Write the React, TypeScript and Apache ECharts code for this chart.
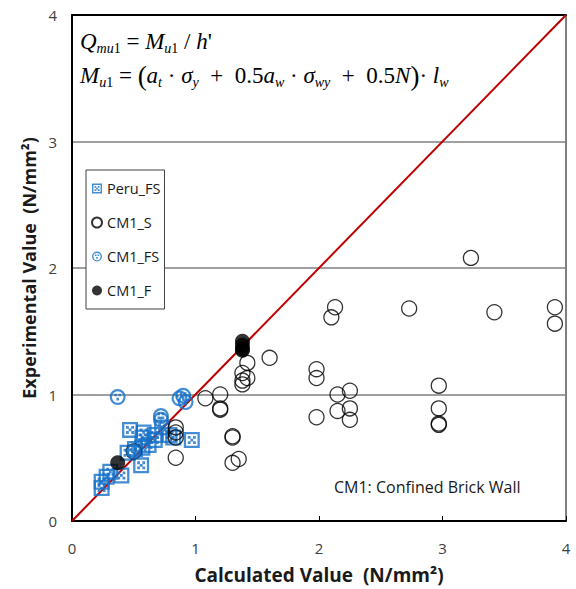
import React, { useEffect, useRef } from "react";
import * as echarts from "echarts";

// ---- data ----
const peruX = [0.47, 0.58, 0.57, 0.67, 0.67, 0.73, 0.79, 0.82, 0.97, 0.45, 0.57, 0.51, 0.56, 0.31, 0.4, 0.28, 0.24, 0.24, 0.62];
const peruY = [0.72, 0.7, 0.66, 0.68, 0.64, 0.74, 0.68, 0.66, 0.64, 0.54, 0.58, 0.57, 0.44, 0.39, 0.36, 0.35, 0.31, 0.26, 0.6];

const cm1sX = [3.23, 2.73, 3.42, 3.91, 3.91, 2.13, 2.1, 1.6, 1.42, 1.38, 1.42, 1.38, 1.38, 1.98, 1.98, 2.15, 2.25, 2.15, 2.25, 2.25, 1.98, 2.97, 2.97, 2.97, 2.97, 1.08, 1.2, 1.2, 1.2, 1.3, 1.3, 1.3, 1.35, 0.84, 0.84, 0.84, 0.84, 0.5];
const cm1sY = [2.08, 1.68, 1.65, 1.69, 1.56, 1.69, 1.61, 1.29, 1.25, 1.17, 1.13, 1.11, 1.08, 1.2, 1.13, 1.0, 1.03, 0.87, 0.89, 0.8, 0.82, 1.07, 0.89, 0.76, 0.77, 0.97, 1.0, 0.89, 0.88, 0.67, 0.66, 0.46, 0.49, 0.74, 0.7, 0.66, 0.5, 0.55];

const cm1fsX = [0.37, 0.87, 0.92, 0.9, 0.72, 0.72, 0.5];
const cm1fsY = [0.98, 0.97, 0.94, 0.99, 0.83, 0.8, 0.55];

const cm1fX = [0.37, 1.38, 1.38, 1.38, 1.38];
const cm1fY = [0.46, 1.42, 1.39, 1.36, 1.35];

const lineX = [0, 4];
const lineY = [0, 4];

const axisTicks = [0, 1, 2, 3, 4];
const seriesNames = ["Peru_FS", "CM1_S", "CM1_FS", "CM1_F"];

const zip = (xs: number[], ys: number[]) => xs.map((x, i) => [x, ys[i]]);

const BLUE = "#1570c8";
const FONT = "'Open Sans', Lato, sans-serif";

const peruSymbol =
  "path://M0,0H16V16H0Z M2.3,2.3V13.7H13.7V2.3Z M4,4h2.8v2.8h-2.8Z M9.2,4h2.8v2.8h-2.8Z M6.6,6.6h2.8v2.8h-2.8Z M4,9.2h2.8v2.8h-2.8Z M9.2,9.2h2.8v2.8h-2.8Z";
const fsSymbol =
  "path://M0,8A8,8,0,1,1,16,8A8,8,0,1,1,0,8Z M2.2,8A5.8,5.8,0,1,0,13.8,8A5.8,5.8,0,1,0,2.2,8Z M4.6,4.6h2.6v2.6h-2.6Z M8.8,4.6h2.6v2.6h-2.6Z M6.7,8.8h2.6v2.6h-2.6Z";

export default function App() {
  const ref = useRef<HTMLDivElement>(null);
  useEffect(() => {
    document.body.style.margin = "0";
    const chart = echarts.init(ref.current!, null, { renderer: "svg" });
    const serif = "'Liberation Serif', 'Times New Roman', serif";
    const rich = {
      i: { fontFamily: serif, fontStyle: "italic", fontSize: 23, lineHeight: 28, color: "#000" },
      n: { fontFamily: serif, fontSize: 23, lineHeight: 28, color: "#000" },
      p: { fontFamily: serif, fontSize: 27, lineHeight: 28, color: "#000" },
      s: { fontFamily: serif, fontStyle: "italic", fontSize: 14, lineHeight: 5, verticalAlign: "bottom", color: "#000" },
      sn: { fontFamily: serif, fontSize: 14, lineHeight: 5, verticalAlign: "bottom", color: "#000" },
    };
    chart.setOption({
      animation: false,
      grid: { left: 72, right: 10, top: 15, bottom: 68, show: true, borderColor: "#000", borderWidth: 1, backgroundColor: "transparent" },
      legend: {
        data: seriesNames,
        orient: "vertical",
        left: 86,
        top: 170,
        itemWidth: 10,
        itemHeight: 10,
        itemGap: 17,
        padding: [10, 4, 10, 5],
        backgroundColor: "#fff",
        borderColor: "#404040",
        borderWidth: 1,
        borderRadius: 0,
        textStyle: { fontFamily: FONT, fontSize: 14.5, color: "#1a1a1a", lineHeight: 17 },
      },
      xAxis: [
        {
          type: "value",
          min: axisTicks[0],
          max: axisTicks[axisTicks.length - 1],
          interval: 1,
          name: "Calculated Value  (N/mm²)",
          nameLocation: "middle",
          nameGap: 44,
          nameTextStyle: { fontFamily: FONT, fontSize: 19, fontWeight: "bold", color: "#1a1a1a" },
          axisLine: { lineStyle: { color: "#000", width: 2 } },
          axisTick: { inside: true, length: 5, lineStyle: { color: "#000" } },
          axisLabel: { fontFamily: FONT, fontSize: 15, color: "#404040", margin: 19 },
          splitLine: { show: false },
        },
        {
          type: "value",
          position: "top",
          min: 0,
          max: 4,
          interval: 1,
          axisLine: { show: true, lineStyle: { color: "#000", width: 2 } },
          axisTick: { show: false },
          axisLabel: { show: false },
          splitLine: { show: false },
        },
      ],
      yAxis: {
        type: "value",
        min: axisTicks[0],
        max: axisTicks[axisTicks.length - 1],
        interval: 1,
        name: "Experimental Value  (N/mm²)",
        nameLocation: "middle",
        nameGap: 22,
        nameTextStyle: { fontFamily: FONT, fontSize: 18, fontWeight: "bold", color: "#1a1a1a" },
        axisLine: { show: true, lineStyle: { color: "#000", width: 2 } },
        axisTick: { show: false },
        axisLabel: { fontFamily: FONT, fontSize: 15, color: "#404040", margin: 15 },
        splitLine: { show: true, lineStyle: { color: "#7f7f7f", width: 1.5 } },
      },
      series: [
        {
          type: "line",
          data: zip(lineX, lineY),
          symbol: "none",
          lineStyle: { color: "#c00000", width: 2 },
          z: 1,
          silent: true,
        },
        {
          name: "Peru_FS",
          type: "scatter",
          data: zip(peruX, peruY),
          symbol: peruSymbol,
          symbolSize: 16,
          itemStyle: { color: BLUE },
          z: 2,
        },
        {
          name: "CM1_S",
          type: "scatter",
          data: zip(cm1sX, cm1sY),
          symbol: "circle",
          symbolSize: 15,
          itemStyle: { color: "rgba(0,0,0,0)", borderColor: "#000", borderWidth: 1.3 },
          z: 3,
        },
        {
          name: "CM1_FS",
          type: "scatter",
          data: zip(cm1fsX, cm1fsY),
          symbol: fsSymbol,
          symbolSize: 16,
          itemStyle: { color: BLUE },
          z: 4,
        },
        {
          name: "CM1_F",
          type: "scatter",
          data: zip(cm1fX, cm1fY),
          symbol: "circle",
          symbolSize: 15,
          itemStyle: { color: "#000" },
          z: 5,
        },
      ],
      graphic: [
        {
          type: "text",
          left: 80,
          top: 30,
          z: 10,
          style: {
            text: "{i|Q}{s|mu}{sn|1}{n| = }{i|M}{s|u}{sn|1}{n| / }{i|h}{n|'}",
            rich,
          },
        },
        {
          type: "text",
          left: 80,
          top: 62,
          z: 10,
          style: {
            text: "{i|M}{s|u}{sn|1}{n| = }{p|(}{i|a}{s|t}{n| · }{i|σ}{s|y}{n|  +  0.5}{i|a}{s|w}{n| · }{i|σ}{s|wy}{n|  +  0.5}{i|N}{p|)}{n|·}{i| l}{s|w}",
            rich,
          },
        },
        {
          type: "text",
          left: 334,
          top: 479,
          z: 10,
          style: {
            text: "CM1: Confined Brick Wall",
            fontFamily: FONT,
            fontSize: 16,
            fill: "#1a1a1a",
          },
        },
      ],
    });
    return () => chart.dispose();
  }, []);
  return <div ref={ref} style={{ width: 576, height: 589 }} />;
}
